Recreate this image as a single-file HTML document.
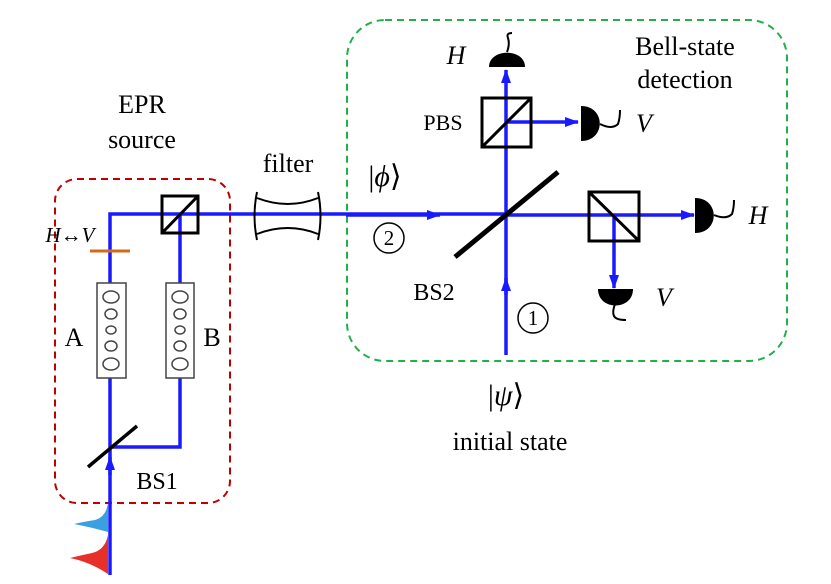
<!DOCTYPE html>
<html><head><meta charset="utf-8"><style>body{margin:0;background:#fff}svg{display:block}</style></head><body>
<svg width="831" height="584" viewBox="0 0 831 584" xmlns="http://www.w3.org/2000/svg" font-family="Liberation Serif, serif">
<defs><marker id="a" markerWidth="14" markerHeight="10" refX="13" refY="5" orient="auto" markerUnits="userSpaceOnUse"><path d="M0,0 L14,5 L0,10 Z" fill="#1a1aff"/></marker></defs>
<rect x="55" y="179" width="175" height="324" rx="22" fill="none" stroke="#c00000" stroke-width="2" stroke-dasharray="7,5"/>
<rect x="347" y="20" width="440" height="341" rx="38" fill="none" stroke="#22b04a" stroke-width="2" stroke-dasharray="7,5"/>
<g stroke="#1a1aff" stroke-width="3.5" fill="none">
<path d="M110,575 V214 H506"/>
<path d="M110,447 H180 V214"/>
<path d="M506,355 V70" marker-end="url(#a)"/>
<path d="M506,122 H578" marker-end="url(#a)"/>
<path d="M506,215 H694" marker-end="url(#a)"/>
<path d="M614,215 V288" marker-end="url(#a)"/>
<path d="M346,215 H440" marker-end="url(#a)"/>
<path d="M506,295 V278" marker-end="url(#a)"/>
<path d="M110,475 V457" marker-end="url(#a)"/>
</g>
<path d="M108,503 Q106,517 95,520 Q82,522 74,524 Q90,527 108,532 Z" fill="#3aa0e0"/>
<path d="M108,535 Q105,550 92,553 Q78,556 70,558 Q90,562 108,574 Z" fill="#e8302a"/>
<line x1="90" y1="251" x2="130" y2="251" stroke="#d2691e" stroke-width="3"/>
<g fill="#fff" stroke="#444" stroke-width="1.5">
<rect x="97" y="283" width="29" height="95"/><rect x="166" y="283" width="28" height="95"/>
<ellipse cx="111" cy="297" rx="8" ry="6"/><ellipse cx="111" cy="314" rx="6" ry="5"/><ellipse cx="111" cy="330" rx="5" ry="4"/><ellipse cx="111" cy="346" rx="6" ry="5"/><ellipse cx="111" cy="364" rx="8" ry="6"/>
<ellipse cx="180" cy="297" rx="8" ry="6"/><ellipse cx="180" cy="314" rx="6" ry="5"/><ellipse cx="180" cy="330" rx="5" ry="4"/><ellipse cx="180" cy="346" rx="6" ry="5"/><ellipse cx="180" cy="364" rx="8" ry="6"/>
</g>
<g stroke="#000" stroke-width="3" fill="none">
<rect x="162" y="196" width="36" height="37"/><line x1="162" y1="233" x2="198" y2="196"/>
<rect x="482" y="98" width="49" height="49"/><line x1="482" y1="147" x2="531" y2="98"/>
<rect x="589" y="192" width="50" height="49"/><line x1="589" y1="192" x2="639" y2="241"/>
</g>
<line x1="88" y1="467" x2="137" y2="426" stroke="#000" stroke-width="3.5"/>
<line x1="455" y1="257" x2="558" y2="172" stroke="#000" stroke-width="5"/>
<g stroke="#000" stroke-width="2" fill="none">
<path d="M257,192 Q252,216 257,240 M318,192 Q323,216 318,240 M257,198 Q288,210 318,198 M257,234 Q288,222 318,234"/>
</g>
<g fill="#000">
<path d="M489,67 C489,48 525,48 525,67 Z"/>
<path d="M581,106 C606,106 606,141 581,141 Z"/>
<path d="M695,198 C720,198 720,233 695,233 Z"/>
<path d="M598,289 C598,311 633,311 633,289 Z"/>
</g>
<g stroke="#000" stroke-width="2" fill="none">
<path d="M507,52 Q510,44 508,38 Q506,33 512,33"/><path d="M600,124 Q612,130 618,124 Q620,118 620,110"/>
<path d="M714,215 Q726,220 732,214 Q734,208 734,200"/><path d="M615,304 Q612,312 614,316 Q616,320 626,320"/>
</g>
<g font-size="26" text-anchor="middle">
<text x="142" y="113">EPR</text><text x="142" y="148">source</text>
<text x="288" y="172">filter</text>
<text x="685" y="55">Bell-state</text><text x="685" y="88">detection</text>
<text x="510" y="450">initial state</text>
<text x="74" y="346">A</text><text x="212" y="346">B</text>
<text x="157" y="489" font-size="24">BS1</text>
<text x="434" y="300" font-size="24">BS2</text>
<text x="443" y="130" font-size="22">PBS</text>
</g>
<g font-size="26" font-style="italic" text-anchor="middle">
<text x="456" y="64">H</text><text x="644" y="132">V</text><text x="758" y="224">H</text><text x="664" y="306">V</text>
<text x="70" y="242" font-size="21">H↔V</text>
</g>
<g font-size="30" text-anchor="middle">
<text x="385" y="186">|<tspan font-style="italic">ϕ</tspan>⟩</text>
<text x="506" y="405">|<tspan font-style="italic">ψ</tspan>⟩</text>
</g>
<g fill="none" stroke="#000" stroke-width="1.5"><circle cx="389" cy="238" r="15"/><circle cx="533" cy="318" r="15"/></g>
<g font-size="21" text-anchor="middle"><text x="389" y="245">2</text><text x="533" y="325">1</text></g>
</svg>
</body></html>
